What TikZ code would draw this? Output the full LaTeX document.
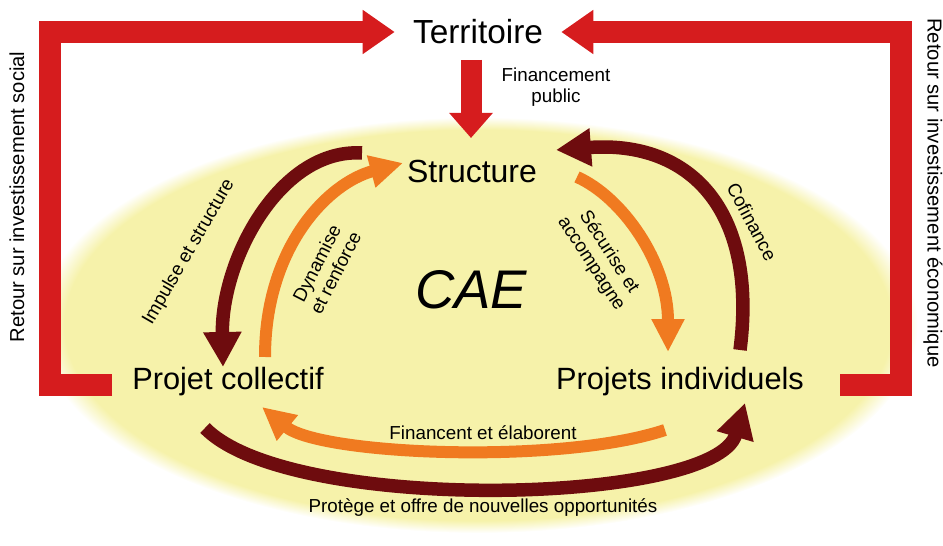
\documentclass[tikz,border=0pt]{standalone}
\usepackage{fontspec}
\setmainfont{Liberation Sans}
\usetikzlibrary{arrows.meta}

\definecolor{frameRed}{RGB}{214,28,30}
\definecolor{darkBrown}{RGB}{110,12,14}
\definecolor{flowOrange}{RGB}{240,122,32}
\definecolor{caeYellow}{RGB}{246,242,170}
\pgfdeclareradialshading{caeglow}{\pgfpoint{0bp}{0bp}}{color(0bp)=(caeYellow); color(23.5bp)=(caeYellow); color(25bp)=(white); color(50bp)=(white)}

\tikzset{
  frame/.style={line width=0.44cm, frameRed, -{Triangle[width=0.84cm,length=0.64cm]}},
  finflow/.style={line width=0.42cm, frameRed, -{Triangle[width=0.84cm,length=0.5cm]}},
  darkflow/.style={line width=0.27cm, darkBrown, -{Triangle[width=0.72cm,length=0.7cm]}},
  orangeflow/.style={line width=0.24cm, flowOrange, -{Triangle[width=0.62cm,length=0.66cm]}},
  flowlabel/.style={font=\fontsize{10.7}{12}\selectfont, align=center, inner sep=0pt},
  sidelabel/.style={font=\fontsize{11.5}{13}\selectfont, inner sep=0pt},
}

\begin{document}
\begin{tikzpicture}[x=0.02cm, y=-0.02cm]
  \useasboundingbox (0,0) rectangle (943,546);
  % the CAE ellipse
  \shade[shading=caeglow] (478,325) ellipse [x radius=8.8cm, y radius=4.16cm];

  % main places
  \node[font=\fontsize{19}{21}\selectfont, inner xsep=0.36cm] (terr) at (478,32) {Territoire};
  \node[font=\fontsize{18.2}{20}\selectfont] (struct) at (472,171) {Structure};
  \node[font=\fontsize{31}{33}\selectfont\itshape] (cae) at (471,290) {CAE};
  \node[font=\fontsize{17.5}{19}\selectfont] (pc) at (228,382) {Projet collectif};
  \node[font=\fontsize{17.5}{19}\selectfont] (pi) at (680,382) {Projets individuels};

  % red frame back to the territory
  \draw[frame] ([shift={(-116,3)}]pc.center) -| ([shift={(-428,0)}]terr.center) -- (terr.west);
  \draw[frame] ([shift={(160,3)}]pi.center) -| ([shift={(423,0)}]terr.center) -- (terr.east);
  \draw[finflow] ([shift={(-7,28)}]terr.center) -- ([shift={(-1,-33)}]struct.center);
  \node[flowlabel] (finLbl) at (556,87) {Financement\\public};

  % flows round the structure
  \draw[darkflow] ([shift={(-110,-18)}]struct.center) .. controls +(-82,-5) and +(-2,-107) .. ([shift={(-5,-15)}]pc.center);
  \draw[orangeflow] ([shift={(37,-25)}]pc.center) .. controls +(0,-110) and +(-75,20) .. ([shift={(-69,-8)}]struct.center);
  \draw[orangeflow] ([shift={(105,6)}]struct.center) .. controls +(45,20) and +(0,-90) .. ([shift={(-12,-30)}]pi.center);
  \draw[darkflow] ([shift={(60,-32)}]pi.center) .. controls +(18,-140) and +(134,-10) .. ([shift={(84,-21)}]struct.center);
  \draw[orangeflow] ([shift={(-15,48)}]pi.center) .. controls +(-105,35) and +(58,48) .. ([shift={(34,25)}]pc.center);
  \draw[darkflow] ([shift={(-23,46)}]pc.center) .. controls +(85,87) and +(-30,102) .. ([shift={(65,21)}]pi.center);

  % labels
  \node[flowlabel, rotate=60] (impLbl) at (189,252) {Impulse et structure};
  \node[flowlabel, rotate=63] (dynLbl) at (326,268) {Dynamise\\et renforce};
  \node[flowlabel, rotate=-57] (secLbl) at (600,258) {Sécurise et\\accompagne};
  \node[flowlabel, rotate=-62] (cofLbl) at (752,222) {Cofinance};
  \node[flowlabel] (elabLbl) at (483,433) {Financent et élaborent};
  \node[flowlabel] (protLbl) at (483,508) {Protège et offre de nouvelles opportunités};
  \node[sidelabel, rotate=90] (socLbl) at (17,197) {Retour sur investissement social};
  \node[sidelabel, rotate=-90] (ecoLbl) at (933,193) {Retour sur investissement économique};
\end{tikzpicture}
\end{document}
